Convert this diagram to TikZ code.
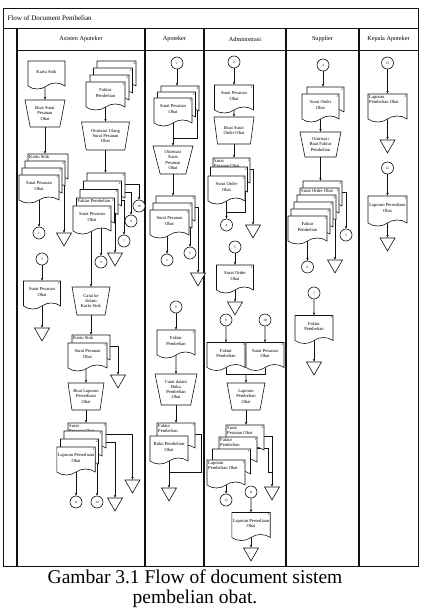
\documentclass[tikz,border=0pt]{standalone}
\usepackage{fontspec}
\setmainfont{Liberation Serif}
\usepackage{tikz}
\usetikzlibrary{arrows.meta,positioning,calc,shapes.geometric,shapes.symbols,backgrounds}
\definecolor{FlowInk}{HTML}{111111}
\newcommand{\docfont}{\fontsize{4.6}{5.2}\selectfont}
\newcommand{\numfont}{\fontsize{3.4}{3.6}\selectfont}
\newcommand{\headfont}{\fontsize{6.2}{7}\selectfont}
\newcommand{\capfont}{\fontsize{19.5}{22}\selectfont}

\begin{document}
\begin{tikzpicture}[x=1pt,y=-1pt,
    doc/.style={tape,draw=FlowInk,fill=white,line width=0.6pt,tape bend top=none,tape bend bottom=in and out,tape bend height=6pt,minimum width=38pt,minimum height=28pt,inner sep=1pt,align=center,font=\docfont},
    num/.style={anchor=north east,inner sep=1pt,font=\numfont},
    doctop/.style={anchor=north west,align=left,inner sep=1.3pt,font=\docfont},
    manop/.style={trapezium,draw=FlowInk,fill=white,line width=0.6pt,shape border rotate=180,trapezium stretches=true,trapezium left angle=76,trapezium right angle=76,minimum width=40pt,minimum height=27pt,inner sep=0.5pt,align=center,font=\docfont},
    conn/.style={circle,draw=FlowInk,fill=white,line width=0.6pt,minimum size=12pt,inner sep=0pt,font=\numfont},
    filed/.style={regular polygon,regular polygon sides=3,shape border rotate=180,draw=FlowInk,fill=white,line width=0.6pt,minimum size=17.3pt,inner sep=0pt},
    wire/.style={draw=FlowInk,line width=0.65pt},
    flow/.style={wire,-{Stealth[length=2.8pt,width=2.4pt]}},
    lane/.style={draw=FlowInk,line width=0.9pt}]
      \useasboundingbox (0,0) rectangle (421,609);
      \node[anchor=west,font=\fontsize{7}{8}\selectfont] (title) at (4,18) {Flow of Document Pembelian};
      \node[font=\headfont] (hasis) at (81,39) {Asisten Apoteker};
      \node[font=\headfont] (hapot) at (174.5,39) {Apoteker};
      \node[font=\headfont] (hadm) at (245,39) {Administrasi};
      \node[font=\headfont] (hsup) at (322.5,39) {Supplier};
      \node[font=\headfont] (hkep) at (388.5,39) {Kepala Apoteker};

      \node[doc,minimum width=37pt] (ks1) at (46.5,72) {Kartu Stok};
      \node[manop] (bspo) at (45,113.5) {Buat Surat\\Pesanan\\Obat};
      \node[doc,minimum width=40pt,label={[doctop]north west:Kartu Stok}] (sa1) at (48,165) {};
      \node[doc,minimum width=40pt,label={[num]north east:3}] (sa2) at (45,172) {};
      \node[doc,minimum width=40pt,label={[num]north east:2}] (sa3) at (42,179) {};
      \node[doc,minimum width=40pt,label={[num]north east:1}] (sa4) at (39,186) {Surat Pesanan\\Obat};
      \node[conn] (c1) at (39,233) {1};
      \node[filed] (t1) at (64,237.3) {};
      \node[conn] (c3) at (42,259) {3};
      \node[doc,minimum width=37pt,label={[num]north east:2}] (spo3) at (42,292) {Surat Pesanan\\Obat};
      \node[filed] (t2) at (42,332.3) {};
      \node[doc,minimum width=39pt,label={[num]north east:4}] (fa1) at (116.5,72) {};
      \node[doc,minimum width=39pt,label={[num]north east:3}] (fa2) at (113,79) {};
      \node[doc,minimum width=39pt,label={[num]north east:2}] (fa3) at (109.5,86) {};
      \node[doc,minimum width=39pt,label={[num]north east:1}] (fa4) at (105.5,93) {Faktur\\Pembelian};
      \node[manop,minimum width=48pt,minimum height=28pt] (oto1) at (105.5,136) {Otorisasi Ulang\\Surat Pesanan\\Obat};
      \node[doc,label={[num]north east:5}] (fb1) at (106,184) {};
      \node[doc,label={[num]north east:4}] (fb2) at (102.5,192) {};
      \node[doc,label={[num]north east:3}] (fb3) at (99,200.5) {};
      \node[doc,label={[doctop]north west:Faktur Pembelian},label={[num]north east:1}] (fb4) at (95.5,209) {};
      \node[doc,label={[num]north east:1}] (fb5) at (92,217) {Surat Pesanan\\Obat};
      \node[conn] (c10) at (139,206) {10};
      \node[conn] (c8) at (131,221) {8};
      \node[conn] (c7) at (124,241) {7};
      \node[filed] (t3) at (115,257.3) {};
      \node[conn] (c9) at (101,262) {9};
      \node[manop,minimum width=38pt,minimum height=28pt] (ck) at (91,301) {Catat ke\\dalam\\Kartu Stok};
      \node[doc,label={[doctop]north west:Kartu Stok}] (kb1) at (91,346) {};
      \node[doc,minimum width=39pt,label={[num]north east:1}] (kb2) at (87.5,354) {Surat Pesanan\\Obat};
      \node[filed] (t4) at (118,379.3) {};
      \node[manop,minimum width=36pt] (blp) at (86,396.5) {Buat Laporan\\Persediaan\\Obat};
      \node[doc,label={[doctop]north west:Surat\\Pesanan Obat},label={[num]north east:1}] (lc1) at (87,434) {};
      \node[doc,label={[num]north east:3}] (lc2) at (83,442) {};
      \node[doc,label={[num]north east:2}] (lc3) at (79.5,450) {};
      \node[doc,label={[num]north east:1}] (lc4) at (76,458) {Laporan Persediaan\\Obat};
      \node[filed] (t5) at (132.5,484.3) {};
      \node[filed] (t6) at (115,502.3) {};
      \node[conn] (c12) at (97,502) {12};
      \node[conn] (c11) at (76,502) {11};

      \node[conn] (c1b) at (177,63) {1};
      \node[doc,label={[num]north east:3}] (pa1) at (180,97) {};
      \node[doc,label={[num]north east:2}] (pa2) at (176.5,103) {};
      \node[doc,label={[num]north east:1}] (pa3) at (173,109) {Surat Pesanan\\Obat};
      \node[manop,minimum height=28pt] (oto2) at (173,160) {Otorisasi\\Surat\\Pesanan\\Obat};
      \node[doc,minimum width=39pt,label={[num]north east:3}] (pb1) at (175.5,207) {};
      \node[doc,minimum width=39pt,label={[num]north east:2}] (pb2) at (172.5,214) {};
      \node[doc,minimum width=39pt,label={[num]north east:1}] (pb3) at (169.5,221) {Surat Pesanan\\Obat};
      \node[conn] (c3a) at (190,253) {3};
      \node[conn] (c2a) at (167,260) {2};
      \node[filed] (t7) at (198,277.3) {};
      \node[conn] (c8b) at (176,307) {8};
      \node[doc,label={[num]north east:1}] (fpb) at (176,341) {Faktur\\Pembelian};
      \node[manop,minimum width=42pt,minimum height=31pt] (cbp) at (176,389.5) {Catat dalam\\Buku\\Pembelian\\Obat};
      \node[doc,label={[doctop]north west:Faktur\\Pembelian},label={[num]north east:1}] (fpc) at (176,434) {};
      \node[doc] (bpo) at (169,447) {Buku Pembelian\\Obat};
      \node[filed] (t8) at (169,492.3) {};
      \coordinate (pj) at (173,138);
      \coordinate (pk) at (169,472);

      \node[conn] (c2b) at (234,62) {2};
      \node[doc,minimum width=39pt,label={[num]north east:1}] (spa) at (234,96) {Surat Pesanan\\Obat};
      \node[manop] (bso) at (234,130.5) {Buat Surat\\Order Obat};
      \node[doc,minimum width=37pt,label={[doctop]north west:Surat\\Pesanan Obat},label={[num]north east:1}] (so1) at (231.5,169) {};
      \node[doc,minimum width=37pt,label={[num]north east:2}] (so2) at (229,178) {};
      \node[doc,minimum width=37pt,label={[num]north east:1}] (so3) at (226.5,187) {Surat Order\\Obat};
      \node[conn] (c4) at (226.5,225) {4};
      \node[filed] (t9) at (253,229.3) {};
      \node[conn] (c5b) at (235,247) {5};
      \node[doc,minimum width=37pt,label={[num]north east:1}] (soo) at (235,276) {Surat Order\\Obat};
      \node[filed] (t10) at (235,306.3) {};
      \node[conn] (c9b) at (226,320) {9};
      \node[conn] (c10b) at (265,320) {10};
      \node[doc,label={[num]north east:1}] (fpa) at (226,353.5) {Faktur\\Pembelian};
      \node[doc,label={[num]north east:2}] (spb) at (265,353.5) {Surat Pesanan\\Obat};
      \node[manop,minimum width=38pt] (lpo) at (246,396.5) {Laporan\\Pembelian\\Obat};
      \node[doc,label={[doctop]north west:Surat\\Pesanan Obat},label={[num]north east:2}] (lpa1) at (245,436) {};
      \node[doc,label={[doctop]north west:Faktur\\Pembelian},label={[num]north east:1}] (lpa2) at (238,448) {};
      \node[doc,label={[num]north east:1}] (lpa3) at (231.5,460) {};
      \node[doc,label={[doctop]north west:Laporan\\Pembelian Obat},label={[num]north east:1}] (lpa4) at (226,471) {};
      \node[filed] (t11) at (272,491.3) {};
      \node[conn] (c13) at (226,500) {13};
      \node[conn] (c11b) at (251,492) {11};
      \node[doc,minimum width=37pt,label={[num]north east:1}] (lpso) at (251,523.5) {Laporan Persediaan\\Obat};
      \node[filed] (t12) at (251,552.3) {};
      \coordinate (dj) at (226.5,212);
      \coordinate (dj2) at (246,374);
      \coordinate (dk) at (272,472);

      \node[conn] (c4b) at (323,65) {4};
      \node[doc,minimum width=37pt,label={[num]north east:2}] (sb1) at (325.5,98) {};
      \node[doc,minimum width=37pt,label={[num]north east:1}] (sb2) at (320.5,105) {Surat Order\\Obat};
      \node[manop,minimum width=41pt,minimum height=25pt] (ofp) at (320.5,144.5) {Otorisasi\\Buat Faktur\\Pembelian};
      \node[doc,minimum width=39pt,label={[num]north east:2}] (sf1) at (322.5,192) {};
      \node[doc,minimum width=39pt,label={[doctop]north west:Surat Order Obat},label={[num]north east:1}] (sf2) at (319.5,199) {};
      \node[doc,minimum width=39pt,label={[num]north east:4}] (sf3) at (316.5,206) {};
      \node[doc,minimum width=39pt,label={[num]north east:3}] (sf4) at (313.5,213) {};
      \node[doc,minimum width=39pt,label={[num]north east:2}] (sf5) at (310.5,220) {};
      \node[doc,minimum width=39pt,label={[num]north east:1}] (sf6) at (307.5,227) {Faktur\\Pembelian};
      \node[conn] (c5a) at (346,235) {5};
      \node[filed] (t13) at (335,264.3) {};
      \node[conn] (c6) at (307.5,267) {6};
      \node[conn] (c7b) at (314,293) {7};
      \node[doc,label={[num]north east:1}] (fps) at (314,326.5) {Faktur\\Pembelian};
      \node[filed] (t14) at (314,366.3) {};

      \node[conn] (c13b) at (387.5,63) {13};
      \node[doc,minimum width=39pt,label={[doctop]north west:Laporan\\Pembelian Obat},label={[num]north east:1}] (klp) at (387.5,105) {};
      \node[filed] (t15) at (387.5,144.3) {};
      \node[conn] (c12b) at (387.5,168) {12};
      \node[doc,minimum width=39pt,minimum height=30pt,label={[num]north east:1}] (klps) at (387.5,208) {Laporan Persediaan\\Obat};
      \node[filed] (t16) at (387.5,242.3) {};

      \node[font=\capfont,anchor=base] (cap1) at (195,583) {Gambar 3.1 Flow of document sistem};
      \node[font=\capfont,anchor=base] (cap2) at (195,603.5) {pembelian obat.};

      \begin{pgfonlayer}{background}
        \fill[white] (0,0) rectangle (421,609);
        \draw[lane] (3,8) rectangle (418,566);
        \draw[lane] (3,28) -- (418,28);
        \draw[lane] (17,50) -- (418,50);
        \foreach \lx in {17,145,204,286,359}
          \draw[lane,line width=1.1pt] (\lx,28) -- (\lx,566);

        \draw[flow] (ks1.center -| bspo) -- (bspo);
        \draw[flow] (bspo.center) -- (bspo.center |- sa1.north);
        \draw[flow] (sa4.center) -- (c1);
        \draw[flow] (sa1.center) -| (t1);
        \draw[flow] (c3) -- (spo3);
        \draw[flow] (spo3.center) -- (t2);
        \draw[flow] (fa4.center) -- (oto1);
        \draw[flow] (oto1.center) -- (oto1.center |- fb1.north);
        \draw[flow] (fb1.center) -| (c10);
        \draw[flow] (fb2.center) -| (c8);
        \draw[flow] (fb3.center) -| (c7);
        \draw[flow] (fb4.center) -| (t3);
        \draw[flow] (fb5.center -| c9) -- (c9);
        \draw[flow] (fb5.center -| ck) -- (ck);
        \draw[flow] (ck.center) -- (kb1);
        \draw[flow] (kb1.center) -| (t4);
        \draw[flow] (kb2.center -| blp) -- (blp);
        \draw[flow] (blp.center) -- (blp.center |- lc1.north);
        \draw[flow] (lc1.center) -| (t5);
        \draw[flow] (lc2.center) -| (t6);
        \draw[flow] (lc3.center -| c12) -- (c12);
        \draw[flow] (lc4.center) -- (c11);

        \draw[flow] (c1b) -- (c1b |- pa1.north);
        \draw[wire] ([xshift=-2pt]pa1.east) |- (pj);
        \draw[flow] (pa3.center) -- (oto2);
        \draw[flow] (oto2.center) -- (oto2.center |- pb1.north);
        \draw[flow] (pb1.center) -| (t7);
        \draw[flow] (pb2.center) -| (c3a);
        \draw[flow] (pb3.center -| c2a) -- (c2a);
        \draw[flow] (c8b) -- (fpb);
        \draw[flow] (fpb.center) -- (cbp);
        \draw[flow] (cbp.center) -- (fpc);
        \draw[wire] (fpc.center) -- ++(25,0) |- (pk);
        \draw[flow] (bpo.center) -- (t8);

        \draw[flow] (c2b) -- (spa);
        \draw[flow] (spa.center) -- (bso);
        \draw[flow] (bso.center) -- (bso.center |- so1.north);
        \draw[flow] (so1.center) -| (t9);
        \draw[wire] ([xshift=-2pt]so2.east) |- (dj);
        \draw[flow] (so3.center) -- (c4);
        \draw[flow] (c5b) -- (soo);
        \draw[flow] (soo.center) -- (t10);
        \draw[flow] (c9b) -- (fpa);
        \draw[flow] (c10b) -- (spb);
        \draw[wire] (fpa.center) |- (dj2);
        \draw[wire] (spb.center) |- (dj2);
        \draw[flow] (dj2) -- (lpo);
        \draw[flow] (lpo.center) -- (lpo.center |- lpa1.north);
        \draw[flow] (lpa1.center) -| (t11);
        \draw[wire] (lpa2.center) -- ++(30,0) |- (dk);
        \draw[flow] (lpa4.center) -- (c13);
        \draw[flow] (c11b) -- (lpso);
        \draw[flow] (lpso.center) -- (t12);

        \draw[flow] (c4b) -- (c4b |- sb1.north);
        \draw[flow] (sb2.center) -- (ofp);
        \draw[flow] (ofp.center) -- (ofp.center |- sf1.north);
        \draw[flow] (sf1.center) -| (c5a);
        \draw[flow] (sf4.center) -| (t13);
        \draw[flow] (sf6.center) -- (c6);
        \draw[flow] (c7b) -- (fps);
        \draw[flow] (fps.center) -- (t14);

        \draw[flow] (c13b) -- (klp);
        \draw[flow] (klp.center) -- (t15);
        \draw[flow] (c12b) -- (klps);
        \draw[flow] (klps.center) -- (t16);
      \end{pgfonlayer}
    \end{tikzpicture}
\end{document}
